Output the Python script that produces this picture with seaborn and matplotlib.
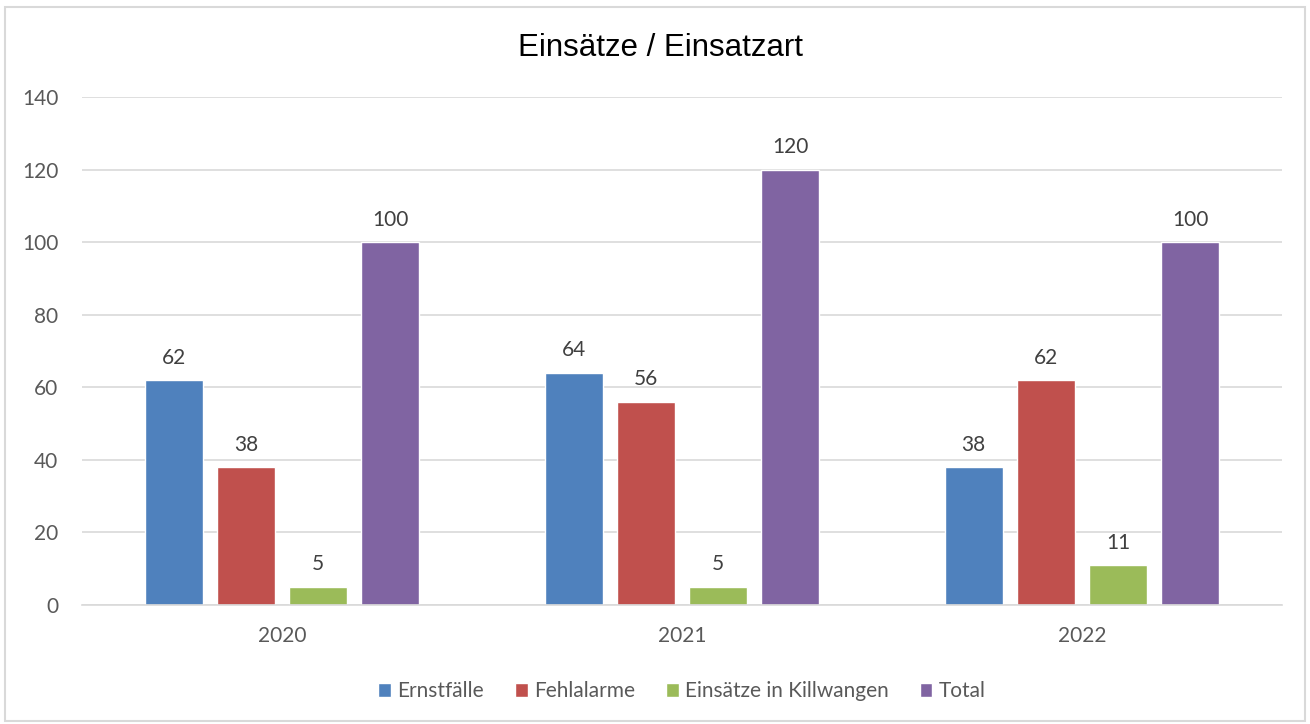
import pandas as pd
import numpy as np
import matplotlib.pyplot as plt
import seaborn as sns
from matplotlib.patches import Rectangle

# values
years = ["2020", "2021", "2022"]
series = ["Ernstfälle", "Fehlalarme", "Einsätze in Killwangen", "Total"]
ernstfaelle = [62, 64, 38]
fehlalarme = [38, 56, 62]
killwangen = [5, 5, 11]
total = [100, 120, 100]
colors = ["#4F81BD", "#C0504D", "#9BBB59", "#8064A2"]

df = pd.DataFrame({
    "Jahr": years * 4,
    "Art": [s for s in series for _ in years],
    "Anzahl": ernstfaelle + fehlalarme + killwangen + total,
})

sns.set_style("white")
plt.rcParams["font.family"] = ["Lato", "DejaVu Sans"]

fig = plt.figure(figsize=(13.1, 7.24), dpi=100)
ax = fig.add_axes([0.0626, 0.1644, 0.916, 0.7016])

sns.barplot(data=df, x="Jahr", y="Anzahl", hue="Art", hue_order=series,
            palette=colors, width=0.722, gap=0.2, saturation=1,
            ax=ax, legend=True)

for cont in ax.containers:
    ax.bar_label(cont, padding=9, fontsize=15, color="#404040")

ax.set_ylim(0, 140)
ax.set_yticks(np.arange(0, 141, 20))
ax.set_xlim(-0.5, 2.5)
ax.set_xlabel("")
ax.set_ylabel("")
ax.yaxis.grid(True, color="#D9D9D9", linewidth=1.2)
ax.set_axisbelow(True)
for s in ["top", "right", "left"]:
    ax.spines[s].set_visible(False)
ax.spines["bottom"].set_color("#D9D9D9")
ax.spines["bottom"].set_linewidth(1.2)
ax.tick_params(axis="both", length=0, labelsize=15, colors="#595959")
ax.tick_params(axis="x", pad=15)
ax.tick_params(axis="y", pad=17)

fig.text(0.504, 0.934, "Einsätze / Einsatzart", ha="center", va="center",
         fontsize=22.5, family=["Liberation Sans", "DejaVu Sans"], color="#000000")

ax.legend(loc="center", bbox_to_anchor=(0.5, -0.17), ncol=4, frameon=False,
          fontsize=15, handlelength=0.6, handleheight=0.6, handletextpad=0.3,
          columnspacing=1.5, labelcolor="#595959")

# outer chart border
fig.patches.append(Rectangle((0.004, 0.004), 0.992, 0.987, transform=fig.transFigure,
                             fill=False, edgecolor="#D9D9D9", linewidth=1.5))

fig.savefig("out.png", dpi=100)
